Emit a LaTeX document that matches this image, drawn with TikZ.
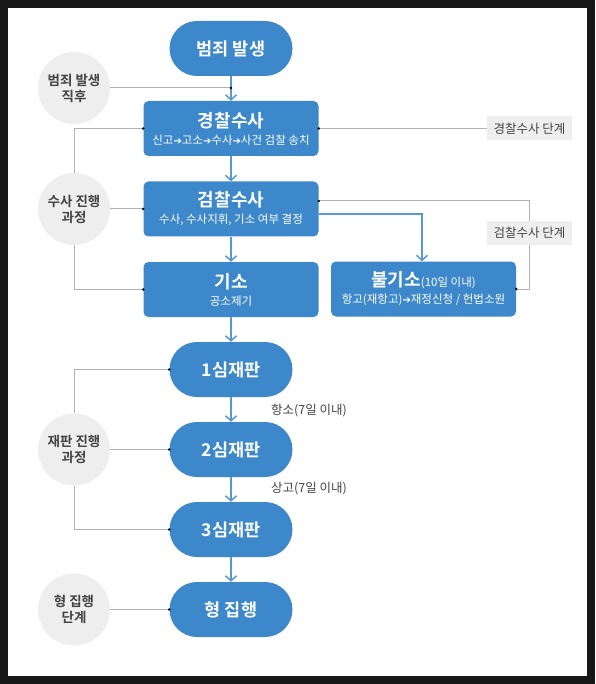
\documentclass[tikz,border=0pt]{standalone}
\usepackage{fontspec}
\setmainfont{Noto Sans CJK KR}[BoldFont={Noto Sans CJK KR Bold}]
\newfontfamily\symfont{DejaVu Sans}
\usetikzlibrary{arrows.meta}
\definecolor{lawblue}{RGB}{60, 136, 202}
\definecolor{flowblue}{RGB}{88, 153, 212}
\definecolor{circgray}{RGB}{238, 238, 238}
\definecolor{linegray}{RGB}{178, 178, 178}
\definecolor{textgray}{RGB}{68, 68, 68}
\definecolor{framedark}{RGB}{24, 24, 24}
\newcommand{\then}{{\symfont\fontsize{10}{10}\selectfont ➔}}
\newcommand{\headtxt}[1]{{\bfseries\fontsize{18}{20}\selectfont #1}}

\begin{document}
\begin{tikzpicture}[x=1pt, y=-1pt, >={Straight Barb[length=5pt, width=11pt]},
    oval/.style={fill=lawblue, text=white, rounded corners=27.5pt, minimum width=123pt, minimum height=55pt, font=\bfseries\fontsize{17.5}{20}\selectfont},
    stepbox/.style={fill=lawblue, text=white, rounded corners=5pt, minimum width=175pt, minimum height=55pt, align=center, inner sep=0pt, font=\fontsize{11.5}{14}\selectfont},
    phase/.style={circle, fill=circgray, text=textgray, minimum size=72pt, inner sep=0pt, align=center, font=\bfseries\fontsize{13.5}{16}\selectfont},
    tag/.style={fill=circgray, text=textgray, minimum width=85pt, minimum height=24pt, inner sep=0pt, font=\fontsize{12.5}{14}\selectfont},
    note/.style={text=textgray, anchor=west, inner sep=0pt, font=\fontsize{12.5}{14}\selectfont},
    link/.style={linegray, line width=1pt},
    flow/.style={flowblue, line width=1.5pt, ->},
    dot/.style={fill=black}]
    % Frame
    \fill[framedark] (0,0) rectangle (595,684);
    \fill[white] (8,8) rectangle (587,676);

    % Main steps
    \node[oval] (crime) at (231,48.5) {범죄 발생};
    \node[stepbox] (police) at (231,128.5) {\headtxt{경찰수사}\\[3pt] 신고\then 고소\then 수사\then 사건 검찰 송치};
    \node[stepbox] (prosec) at (231,209) {\headtxt{검찰수사}\\[3pt] 수사, 수사지휘, 기소 여부 결정};
    \node[stepbox] (indict) at (231,289.5) {\headtxt{기소}\\[3pt] 공소제기};
    \node[stepbox, minimum width=185pt] (nonind) at (423.5,289) {\headtxt{불기소}(10일 이내)\\[3pt] 항고(재항고)\then 재정신청 / 헌법소원};
    \node[oval] (trial1) at (231,369.5) {1심재판};
    \node[oval] (trial2) at (231,449.5) {2심재판};
    \node[oval] (trial3) at (231,529.5) {3심재판};
    \node[oval] (exec) at (231,609.5) {형 집행};

    % Phases
    \node[phase] (pcrime) at (74,88) {범죄 발생\\직후};
    \node[phase] (pinvest) at (74,209) {수사 진행\\과정};
    \node[phase] (ptrial) at (74,449.5) {재판 진행\\과정};
    \node[phase] (pexec) at (74,609.5) {형 집행\\단계};
    \node[tag] (tpolice) at (529.5,128.5) {경찰수사 단계};
    \node[tag] (tprosec) at (529.5,233) {검찰수사 단계};

    % Gray links
    \coordinate (join) at (crime.south |- pcrime.east);
    \coordinate (ptap) at ([yshift=8pt]prosec.east);
    \draw[link] (pcrime.east) -- (join);
    \draw[link] (pinvest.north) |- (police.west);
    \draw[link] (pinvest.east) -- (prosec.west);
    \draw[link] (pinvest.south) |- (indict.west);
    \draw[link] (tpolice.west) -- (police.east);
    \draw[link] (ptap) -| (tprosec.north);
    \draw[link] (tprosec.south) |- (nonind.east);
    \draw[link] (ptrial.north) |- (trial1.west);
    \draw[link] (ptrial.east) -- (trial2.west);
    \draw[link] (ptrial.south) |- (trial3.west);
    \draw[link] (pexec.east) -- (exec.west);

    % Flow
    \draw[flow] (crime) -- (police);
    \draw[flow] (police) -- (prosec);
    \draw[flow] (prosec) -- (indict);
    \draw[flow] ([yshift=-5pt]prosec.east) -| ([xshift=-1.5pt]nonind.north);
    \draw[flow] (indict) -- (trial1);
    \draw[flow] (trial1) -- (trial2);
    \draw[flow] (trial2) -- (trial3);
    \draw[flow] (trial3) -- (exec);
    \node[note] (appeal) at (271,411) {항소(7일 이내)};
    \node[note] (final) at (271,489) {상고(7일 이내)};

    % Dots
    \foreach \p in {join, police.west, prosec.west, indict.west, police.east, ptap, nonind.east, trial1.west, trial2.west, trial3.west, exec.west}
        \fill[dot] (\p) circle (1.4pt);
\end{tikzpicture}
\end{document}
